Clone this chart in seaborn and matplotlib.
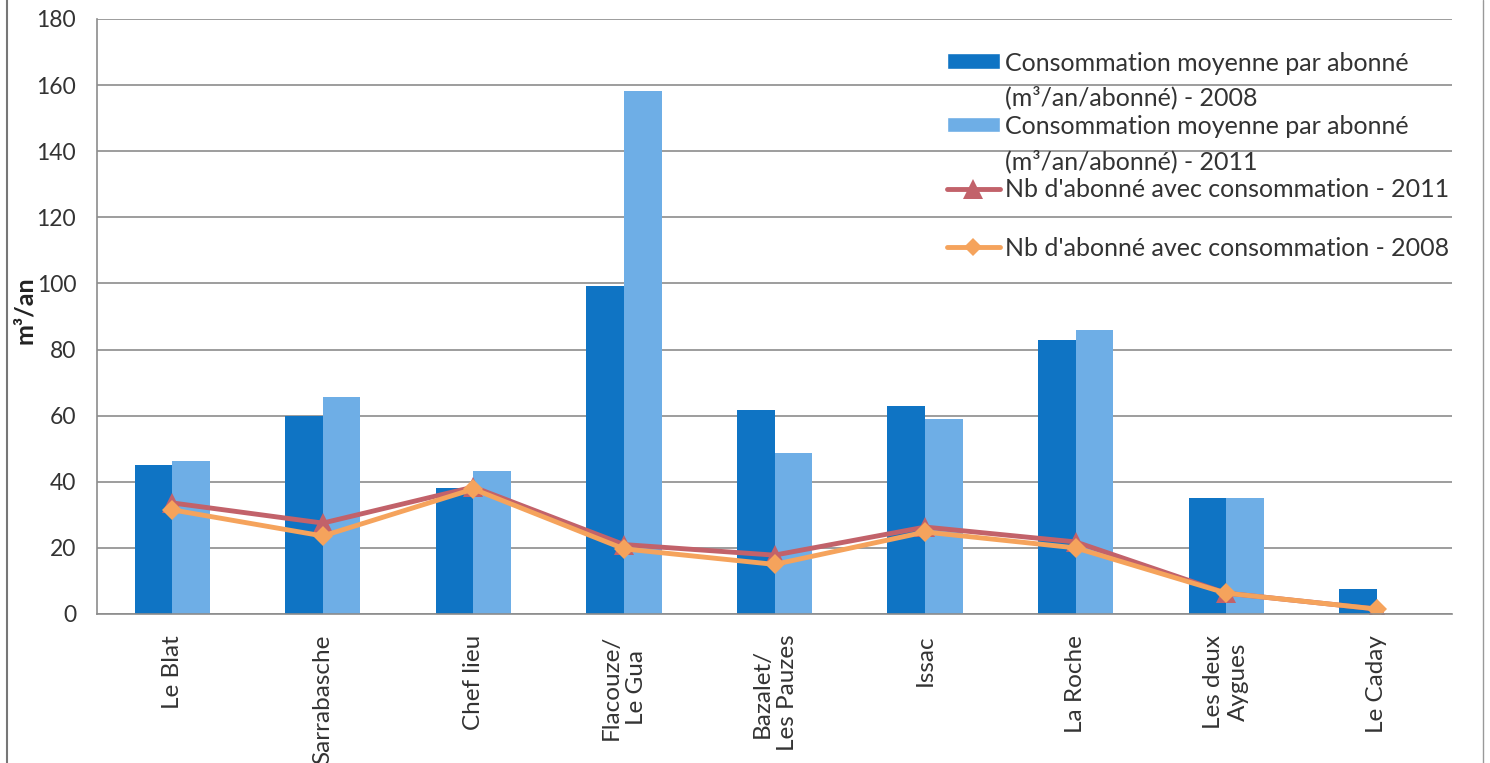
import numpy as np
import pandas as pd
import seaborn as sns
import matplotlib.pyplot as plt
from matplotlib.patches import Patch, Rectangle
from matplotlib.lines import Line2D
from matplotlib.legend_handler import HandlerPatch

# values
villages = ["Le Blat", "Sarrabasche", "Chef lieu", "Flacouze/\nLe Gua", "Bazalet/\nLes Pauzes",
            "Issac", "La Roche", "Les deux\nAygues", "Le Caday"]
conso_2008 = [45, 60, 38, 99.2, 61.7, 63, 83, 35, 7.5]
conso_2011 = [46.3, 65.6, 43.3, 158.2, 48.7, 59, 86, 35, 0]
abonnes_2011 = [33.6, 27.5, 38.4, 21, 17.8, 26.3, 21.8, 6.3, 1.5]
abonnes_2008 = [31.5, 23.6, 37.8, 19.7, 15, 24.8, 20, 6.3, 1.5]

lab_2008 = "Consommation moyenne par abonné\n(m³/an/abonné) - 2008"
lab_2011 = "Consommation moyenne par abonné\n(m³/an/abonné) - 2011"
lab_nb11 = "Nb d'abonné avec consommation - 2011"
lab_nb08 = "Nb d'abonné avec consommation - 2008"

c08 = "#0f74c4"
c11 = "#6eaee6"
cred = "#c2626a"
corange = "#f5a35c"

df = pd.DataFrame({
    "village": villages * 2,
    "valeur": conso_2008 + conso_2011,
    "serie": ["2008"] * 9 + ["2011"] * 9,
})

sns.set_style("white")
plt.rcParams['font.family'] = ['Lato', 'DejaVu Sans']

fig = plt.figure(figsize=(14.9, 7.63), dpi=100)
ax = fig.add_axes([0.0651, 0.1953, 0.9094, 0.7798])

sns.barplot(data=df, x="village", y="valeur", hue="serie", order=villages,
            palette=[c08, c11], width=0.5, gap=0, saturation=1, ax=ax,
            legend=False, linewidth=0)

pos = np.arange(len(villages))
sns.lineplot(x=pos, y=abonnes_2011, color=cred, lw=3.5, marker="^", markersize=14,
             markeredgewidth=0, ax=ax)
sns.lineplot(x=pos, y=abonnes_2008, color=corange, lw=3.5, marker="D", markersize=10,
             markeredgewidth=0, ax=ax)

ax.set_xlim(-0.5, 8.5)
ax.set_ylim(0, 180)
ax.set_yticks(np.arange(0, 181, 20))
ax.yaxis.grid(True, color="#8c8c8c", lw=1.2)
ax.set_axisbelow(True)
for s in ["top", "right"]:
    ax.spines[s].set_visible(False)
for s in ["left", "bottom"]:
    ax.spines[s].set_color("#8c8c8c")
    ax.spines[s].set_linewidth(1.2)

ax.set_xticks(pos)
ax.set_xticklabels(villages, rotation=90, fontsize=17.5, linespacing=1.25, va="top")
ax.set_xticks(np.arange(-0.5, 9, 1), minor=True)
ax.tick_params(axis="x", which="major", length=0, pad=15)
ax.tick_params(axis="x", which="minor", length=7, color="#8c8c8c", direction="out")
ax.tick_params(axis="y", length=7, color="#8c8c8c", direction="out", labelsize=16.5,
               labelcolor="#333333", pad=8)
ax.tick_params(axis="x", labelcolor="#333333")
ax.set_xlabel("")
ax.set_ylabel("m³/an", fontsize=18, fontweight="bold", color="#222222")
ax.yaxis.set_label_coords(-0.045, 0.51)


# bar handle sits on the first line of its two-line label
def top_patch(legend, orig_handle, xdescent, ydescent, width, height, fontsize):
    return Rectangle((-xdescent, -ydescent + 0.8 * fontsize), width, height)


legfont = {"family": ["Lato", "DejaVu Sans"], "size": 18}

bar_handles = [Patch(facecolor=c08), Patch(facecolor=c11)]
leg1 = ax.legend(bar_handles, [lab_2008, lab_2011],
                 loc="upper left", bbox_to_anchor=(0.620, 0.962),
                 frameon=False, handlelength=2.1, handleheight=0.6,
                 handletextpad=0.2, labelspacing=0.2, borderaxespad=0,
                 handler_map={Patch: HandlerPatch(patch_func=top_patch)},
                 prop=legfont)
for t in leg1.get_texts():
    t.set_color("#333333")
    t.set_linespacing(1.58)
ax.add_artist(leg1)

line_handles = [
    Line2D([], [], color=cred, lw=3.5, marker="^", markersize=14, markeredgewidth=0),
    Line2D([], [], color=corange, lw=3.5, marker="D", markersize=9, markeredgewidth=0),
]
leg2 = ax.legend(line_handles, [lab_nb11, lab_nb08],
                 loc="upper left", bbox_to_anchor=(0.620, 0.749),
                 frameon=False, handlelength=2.1,
                 handletextpad=0.2, labelspacing=1.42, borderaxespad=0,
                 prop=legfont)
for t in leg2.get_texts():
    t.set_color("#333333")

# scanned page frame
fig.add_artist(Line2D([0.005, 0.005], [0, 1], color="#777777", lw=1.5, transform=fig.transFigure))
fig.add_artist(Line2D([0.995, 0.995], [0, 1], color="#999999", lw=1.0, transform=fig.transFigure))

fig.savefig("out.png", dpi=100)
